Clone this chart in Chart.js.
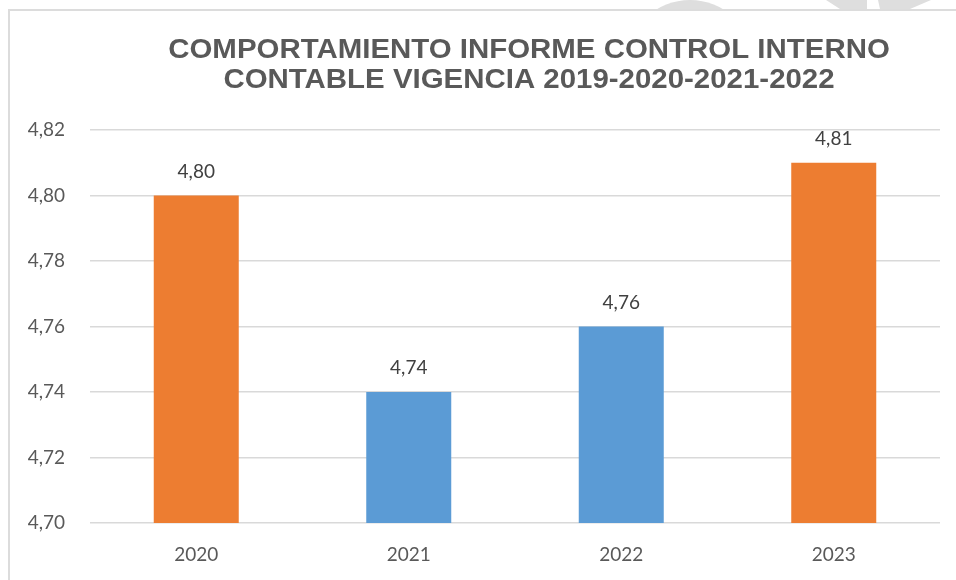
<!DOCTYPE html>
<html>
<head>
<meta charset="utf-8">
<script src="https://cdn.jsdelivr.net/npm/chart.js@4.4.0/dist/chart.umd.min.js"></script>
<style>
  html, body { margin: 0; padding: 0; background: #ffffff; overflow: hidden; }
  body { width: 956px; height: 580px; position: relative; }
  #frame { position: absolute; left: 8px; top: 9px; width: 1100px; height: 700px; border: 2px solid #dcdcdc; box-sizing: border-box; }
  #wrap { position: absolute; left: 0; top: 0; width: 956px; height: 580px; }
</style>
</head>
<body>
<div id="frame"></div>
<div id="wrap"><canvas id="c"></canvas></div>
<script>
const categories = ['2020', '2021', '2022', '2023'];
const values = [4.80, 4.74, 4.76, 4.81];
const barColors = ['#ED7D31', '#5B9BD5', '#5B9BD5', '#ED7D31'];
const titleLines = ['COMPORTAMIENTO INFORME CONTROL INTERNO', 'CONTABLE VIGENCIA 2019-2020-2021-2022'];
const yMin = 4.70, yMax = 4.82, yStep = 0.02;

const fmt = v => Number(v).toFixed(2).replace('.', ',');

const decoPlugin = {
  id: 'deco',
  beforeDraw(chart) {
    const ctx = chart.ctx;
    ctx.save();
    ctx.beginPath();
    ctx.rect(0, 0, chart.width, 9);
    ctx.clip();
    ctx.fillStyle = '#dedede';
    ctx.beginPath();
    ctx.ellipse(690, 60, 62, 60, 0, Math.PI, 2 * Math.PI);
    ctx.closePath();
    ctx.fill();
    ctx.beginPath();
    ctx.moveTo(826, 0); ctx.lineTo(867, 0); ctx.lineTo(867, 9); ctx.lineTo(840, 9); ctx.closePath();
    ctx.fill();
    ctx.beginPath();
    ctx.moveTo(878, 0); ctx.lineTo(931, 0); ctx.lineTo(910, 9); ctx.lineTo(880, 9); ctx.closePath();
    ctx.fill();
    ctx.restore();
  }
};

const titlePlugin = {
  id: 'customTitle',
  afterDraw(chart) {
    const ctx = chart.ctx;
    ctx.save();
    ctx.font = 'bold 27px "Liberation Sans", Arial, sans-serif';
    ctx.fillStyle = '#595959';
    ctx.textAlign = 'center';
    ctx.textBaseline = 'middle';
    const cx = 529, ys = [51, 81], sx = 1.09;
    titleLines.forEach((line, i) => {
      ctx.save();
      ctx.translate(cx, ys[i]);
      ctx.scale(sx, 1);
      ctx.fillText(line, 0, 0);
      ctx.restore();
    });
    ctx.restore();
  }
};

const labelPlugin = {
  id: 'valueLabels',
  afterDatasetsDraw(chart) {
    const ctx = chart.ctx;
    const meta = chart.getDatasetMeta(0);
    ctx.save();
    ctx.font = '19px Lato, "Liberation Sans", sans-serif';
    ctx.fillStyle = '#404040';
    ctx.textAlign = 'center';
    ctx.textBaseline = 'middle';
    meta.data.forEach((bar, i) => {
      ctx.fillText(fmt(chart.data.datasets[0].data[i]), bar.x, bar.y - 24);
    });
    ctx.restore();
  }
};

new Chart(document.getElementById('c'), {
  type: 'bar',
  data: {
    labels: categories,
    datasets: [{
      data: values,
      backgroundColor: barColors,
      borderWidth: 0,
      barPercentage: 0.4,
      categoryPercentage: 1.0
    }]
  },
  options: {
    responsive: true,
    maintainAspectRatio: false,
    animation: false,
    layout: { padding: { left: 0, right: 16, top: 130, bottom: 0 } },
    plugins: {
      legend: { display: false },
      tooltip: { enabled: false },
      title: { display: false }
    },
    scales: {
      x: {
        grid: { display: false },
        border: { display: false },
        ticks: { color: '#595959', font: { family: 'Lato, "Liberation Sans", sans-serif', size: 19 }, padding: 12 },
        afterFit(scale) { scale.height = 57; }
      },
      y: {
        min: yMin,
        max: yMax,
        grid: { color: '#d9d9d9', lineWidth: 1.5, drawTicks: false },
        border: { display: false },
        ticks: {
          stepSize: yStep,
          color: '#595959',
          font: { family: 'Lato, "Liberation Sans", sans-serif', size: 19 },
          padding: 25,
          callback: v => fmt(v)
        },
        afterFit(scale) { scale.width = 90; }
      }
    }
  },
  plugins: [decoPlugin, titlePlugin, labelPlugin]
});
</script>
</body>
</html>
